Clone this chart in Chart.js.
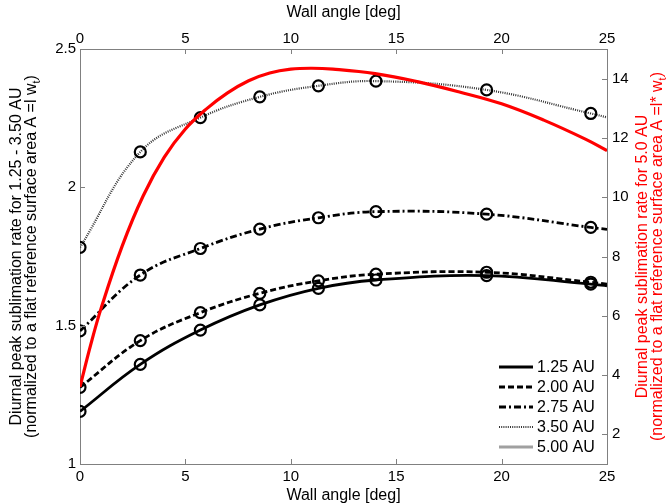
<!DOCTYPE html>
<html><head><meta charset="utf-8">
<script src="https://cdn.jsdelivr.net/npm/chart.js@4.4.1/dist/chart.umd.min.js"></script>
<style>html,body{margin:0;padding:0;background:#fff;}#wrap{width:668px;height:504px;}</style>
</head><body><div id="wrap"><canvas id="c" width="668" height="504"></canvas></div>
<script>
// ---- data ----
const wallAngles = [0, 2.86, 5.71, 8.53, 11.31, 14.04, 19.29, 24.23, 25];
const rate125 = [1.19, 1.36, 1.484, 1.575, 1.635, 1.665, 1.681, 1.650, 1.644];
const rate200 = [1.277, 1.446, 1.547, 1.617, 1.662, 1.686, 1.693, 1.657, 1.650];
const rate275 = [1.481, 1.683, 1.779, 1.849, 1.890, 1.912, 1.903, 1.855, 1.848];
const rate350 = [1.783, 2.128, 2.252, 2.327, 2.367, 2.384, 2.352, 2.267, 2.253];
const redAngles = [0, 0.5, 1, 2, 3, 4, 5, 6, 7, 8, 9, 10, 11, 12, 14, 16, 18, 20, 22, 24, 25];
const rate500 = [3.6, 5.0, 6.25, 8.35, 10.05, 11.35, 12.3, 12.98, 13.52, 13.93, 14.19, 14.32, 14.35, 14.32, 14.17, 13.9, 13.55, 13.15, 12.6, 11.95, 11.57];
const xTicks = [0, 5, 10, 15, 20, 25];
const leftTicks = [1, 1.5, 2, 2.5];
const leftTickLabels = ['1', '1.5', '2', '2.5'];
const rightTicks = [2, 4, 6, 8, 10, 12, 14];
const seriesNames = ['1.25 AU', '2.00 AU', '2.75 AU', '3.50 AU', '5.00 AU'];
const xTitle = 'Wall angle [deg]';
const leftTitle1 = 'Diurnal peak sublimation rate for 1.25 - 3.50 AU';
const leftTitle2 = ['(normalized to a flat reference surface area A =l w', 't', ')'];
const rightTitle1 = 'Diurnal peak sublimation rate for 5.0 AU';
const rightTitle2 = ['(normalized to a flat reference surface area A =l* w', 't', ')'];

const FONT = '"Liberation Sans", Arial, Helvetica, sans-serif';
Chart.defaults.font.family = FONT;
Chart.defaults.color = '#000';
const AXIS = '#808080';

const pts = (xs, ys) => xs.map((x, i) => ({x: x, y: ys[i]}));
const lastNoMarker = ctx => ctx.dataIndex === wallAngles.length - 1 ? 0 : 5.5;

function blackSeries(label, ys, dash, color, width) {
  return {
    label: label, data: pts(wallAngles, ys), xAxisID: 'x', yAxisID: 'y',
    borderColor: color, borderWidth: width, borderDash: dash, tension: 0.4, fill: false,
    pointRadius: lastNoMarker, pointHoverRadius: lastNoMarker, pointStyle: 'circle',
    pointBorderColor: '#000', pointBorderWidth: 2.2, pointBackgroundColor: 'rgba(0,0,0,0)'
  };
}

const datasets = [
  { label: '5.00 AU (right axis)', data: pts(redAngles, rate500), xAxisID: 'x', yAxisID: 'y2',
    borderColor: '#ff0000', borderWidth: 3.2, pointRadius: 0, tension: 0.4, fill: false },
  blackSeries(seriesNames[0], rate125, [], '#000', 2.8),
  blackSeries(seriesNames[1], rate200, [6, 3], '#000', 2.8),
  blackSeries(seriesNames[2], rate275, [7, 3, 2, 3], '#000', 2.8),
  blackSeries(seriesNames[3], rate350, [1, 1.2], '#333', 2.2)
];

const legendStyles = [
  {color: '#000', width: 2.8, dash: []},
  {color: '#000', width: 2.8, dash: [6, 3]},
  {color: '#000', width: 2.8, dash: [7, 3, 2, 3]},
  {color: '#333', width: 2.2, dash: [1, 1.2]},
  {color: '#a0a0a0', width: 3, dash: []}
];

function setTicks(list) { return s => { s.ticks = list.map(v => ({value: v})); }; }

function drawRotated(ctx, cx, cy, parts, color) {
  ctx.save();
  ctx.translate(cx, cy);
  ctx.rotate(-Math.PI / 2);
  ctx.fillStyle = color;
  ctx.textBaseline = 'middle';
  ctx.textAlign = 'left';
  const f = '16px ' + FONT, fs = '11px ' + FONT;
  const fonts = [f, fs, f];
  const offs = [0, 5, 0];
  let widths = parts.map((p, i) => { ctx.font = fonts[i]; return ctx.measureText(p).width; });
  let x = -widths.reduce((a, b) => a + b, 0) / 2;
  parts.forEach((p, i) => { ctx.font = fonts[i]; ctx.fillText(p, x, offs[i]); x += widths[i]; });
  ctx.restore();
}

const extrasPlugin = {
  id: 'extras',
  afterDraw(chart) {
    const ctx = chart.ctx, a = chart.chartArea;
    const sx = chart.scales.x, sy = chart.scales.y, sy2 = chart.scales.y2;
    // inward tick marks
    ctx.save();
    ctx.strokeStyle = AXIS; ctx.lineWidth = 1;
    ctx.beginPath();
    xTicks.forEach(v => {
      const px = Math.round(sx.getPixelForValue(v)) + 0.5;
      ctx.moveTo(px, a.bottom); ctx.lineTo(px, a.bottom - 5);
      ctx.moveTo(px, a.top); ctx.lineTo(px, a.top + 5);
    });
    leftTicks.forEach(v => {
      const py = Math.round(sy.getPixelForValue(v)) + 0.5;
      ctx.moveTo(a.left, py); ctx.lineTo(a.left + 5, py);
    });
    rightTicks.forEach(v => {
      const py = Math.round(sy2.getPixelForValue(v)) + 0.5;
      ctx.moveTo(a.right, py); ctx.lineTo(a.right - 5, py);
    });
    ctx.stroke();
    ctx.restore();
    // axis titles
    const cy = (a.top + a.bottom) / 2;
    drawRotated(ctx, a.left - 63, cy, [leftTitle1, '', ''], '#000');
    drawRotated(ctx, a.left - 48, cy, leftTitle2, '#000');
    drawRotated(ctx, a.right + 36, cy, [rightTitle1, '', ''], '#ff0000');
    drawRotated(ctx, a.right + 51, cy, rightTitle2, '#ff0000');
    // legend
    ctx.save();
    ctx.font = '16px ' + FONT;
    ctx.textBaseline = 'middle';
    ctx.textAlign = 'left';
    seriesNames.forEach((name, i) => {
      const y = 367 + 20 * i;
      const st = legendStyles[i];
      ctx.strokeStyle = st.color; ctx.lineWidth = st.width; ctx.setLineDash(st.dash);
      ctx.beginPath(); ctx.moveTo(499, y); ctx.lineTo(533, y); ctx.stroke();
      ctx.setLineDash([]);
      ctx.fillStyle = '#000';
      ctx.fillText(name, 537, y + 1);
    });
    ctx.restore();
  }
};

new Chart(document.getElementById('c'), {
  type: 'line',
  data: { datasets: datasets },
  plugins: [extrasPlugin],
  options: {
    responsive: false,
    animation: false,
    layout: { padding: 0 },
    plugins: { legend: { display: false }, tooltip: { enabled: false }, title: { display: false } },
    scales: {
      x: {
        type: 'linear', position: 'bottom', min: 0, max: 25,
        afterBuildTicks: setTicks(xTicks), afterFit: s => { s.height = 40; },
        grid: { display: false, drawTicks: false },
        border: { display: true, color: AXIS, width: 1 },
        ticks: { padding: 4, font: { size: 15 }, maxRotation: 0, autoSkip: false, color: '#000' },
        title: { display: true, text: xTitle, font: { size: 16, lineHeight: 1 }, padding: { top: 0, bottom: 0 }, color: '#000' }
      },
      x2: {
        type: 'linear', position: 'top', min: 0, max: 25,
        afterBuildTicks: setTicks(xTicks), afterFit: s => { s.height = 49; },
        grid: { display: false, drawTicks: false },
        border: { display: true, color: AXIS, width: 1 },
        ticks: { padding: 1, font: { size: 15 }, maxRotation: 0, autoSkip: false, color: '#000' },
        title: { display: true, text: xTitle, font: { size: 16, lineHeight: 1 }, padding: { top: 5, bottom: 0 }, color: '#000' }
      },
      y: {
        type: 'linear', position: 'left', min: 1, max: 2.5,
        afterBuildTicks: setTicks(leftTicks), afterFit: s => { s.width = 80; },
        grid: { display: false, drawTicks: false },
        border: { display: true, color: AXIS, width: 1 },
        ticks: { padding: 4, font: { size: 15 }, color: '#000',
          callback: v => leftTickLabels[leftTicks.indexOf(v)] }
      },
      y2: {
        type: 'linear', position: 'right', min: 1, max: 15,
        afterBuildTicks: setTicks(rightTicks), afterFit: s => { s.width = 61; },
        grid: { display: false, drawTicks: false },
        border: { display: true, color: AXIS, width: 1 },
        ticks: { padding: 5, font: { size: 15 }, color: '#000' }
      }
    }
  }
});
</script>
</body></html>
